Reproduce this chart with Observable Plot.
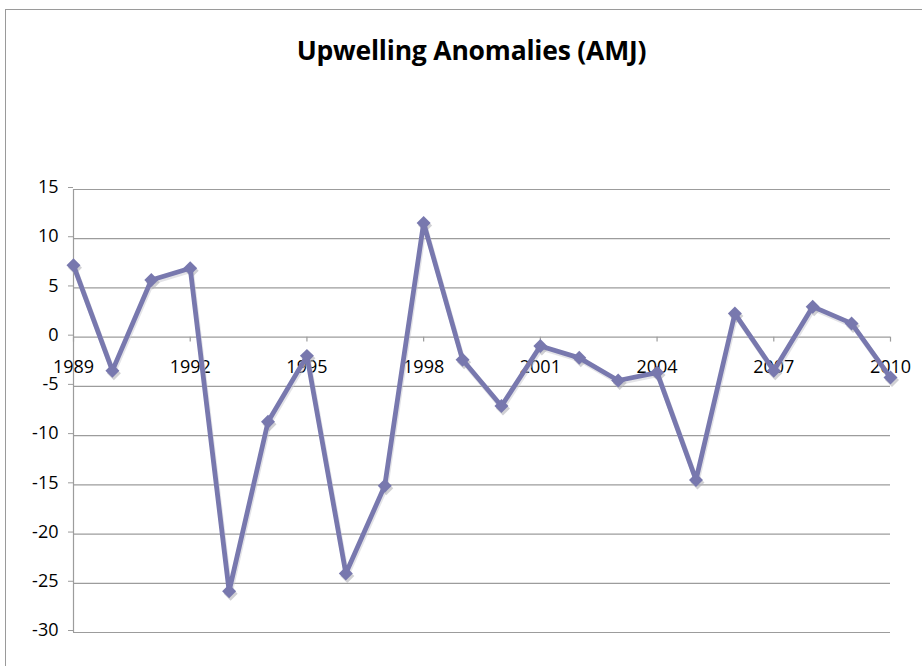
<!DOCTYPE html>
<html>
<head>
<meta charset="utf-8">
<script src="https://cdn.jsdelivr.net/npm/d3@7"></script>
<script src="https://cdn.jsdelivr.net/npm/@observablehq/plot@0.6"></script>
<style>
  html, body { margin: 0; padding: 0; background: #fff; overflow: hidden; }
  #wrap { position: relative; width: 922px; height: 666px; }
  #frame { position: absolute; left: 5px; top: 9px; width: 960px; height: 720px; border: 1.5px solid #9a9a9a; box-sizing: border-box; }
  #title { position: absolute; left: 0; top: 35px; width: 943px; text-align: center; font: bold 26.5px "Open Sans", sans-serif; line-height: 30px; color: #000; letter-spacing: -0.2px; }
  #chart { position: absolute; left: 0; top: 0; }
</style>
</head>
<body>
<div id="wrap">
  <div id="frame"></div>
  <div id="chart"></div>
  <div id="title">Upwelling Anomalies (AMJ)</div>
</div>
<script>
const years = [1989,1990,1991,1992,1993,1994,1995,1996,1997,1998,1999,2000,2001,2002,2003,2004,2005,2006,2007,2008,2009,2010];
const anomalies = [7.3,-3.4,5.8,7.0,-25.8,-8.6,-1.9,-24.0,-15.1,11.6,-2.3,-7.0,-0.9,-2.1,-4.4,-3.6,-14.5,2.4,-3.4,3.1,1.4,-4.1];
const yearLabels = [1989,1992,1995,1998,2001,2004,2007,2010];
const yTicks = [-30,-25,-20,-15,-10,-5,0,5,10,15];

const data = years.map((year, i) => ({year, value: anomalies[i]}));
const color = "#7878ae";
const font = "'Open Sans', sans-serif";

const chart = Plot.plot({
  width: 922,
  height: 666,
  marginLeft: 73,
  marginRight: 32,
  marginTop: 189,
  marginBottom: 34,
  style: {fontFamily: font, fontSize: "18px", color: "#000", background: "transparent"},
  x: {type: "linear", domain: [1989, 2010], axis: null},
  y: {type: "linear", domain: [-30, 15], axis: null},
  marks: [
    Plot.gridY(yTicks, {stroke: "#9c9c9c", strokeOpacity: 1, strokeWidth: 1.2}),
    Plot.ruleX([1989], {y1: -30, y2: 15, stroke: "#9c9c9c", strokeWidth: 1.2}),
    Plot.axisY(yTicks, {tickSize: 5, tickPadding: 10, tickFormat: d => String(d), stroke: "#9c9c9c", fill: "#000", fontSize: 18, dy: -2, label: null}),
    Plot.ruleX(yearLabels, {x: d => d, y1: 0, y2: -0.5, stroke: "#9c9c9c", strokeWidth: 1.2}),
    Plot.text(yearLabels, {x: d => d, y: 0, text: d => String(d), dy: 30, fontSize: 18, fill: "#000", textAnchor: "middle"}),
    Plot.line(data, {x: "year", y: "value", stroke: "#c8c8d0", strokeWidth: 5, dx: 1, dy: 2, strokeOpacity: 0.5}),
    Plot.dot(data, {x: "year", y: "value", symbol: "diamond2", r: 6.3, fill: "#b0b0b8", fillOpacity: 0.6, dx: 1.5, dy: 2.5}),
    Plot.line(data, {x: "year", y: "value", stroke: color, strokeWidth: 4.8, strokeLinejoin: "round"}),
    Plot.dot(data, {x: "year", y: "value", symbol: "diamond2", r: 6.3, fill: color, stroke: "none"})
  ]
});
document.getElementById("chart").appendChild(chart);
</script>
</body>
</html>
